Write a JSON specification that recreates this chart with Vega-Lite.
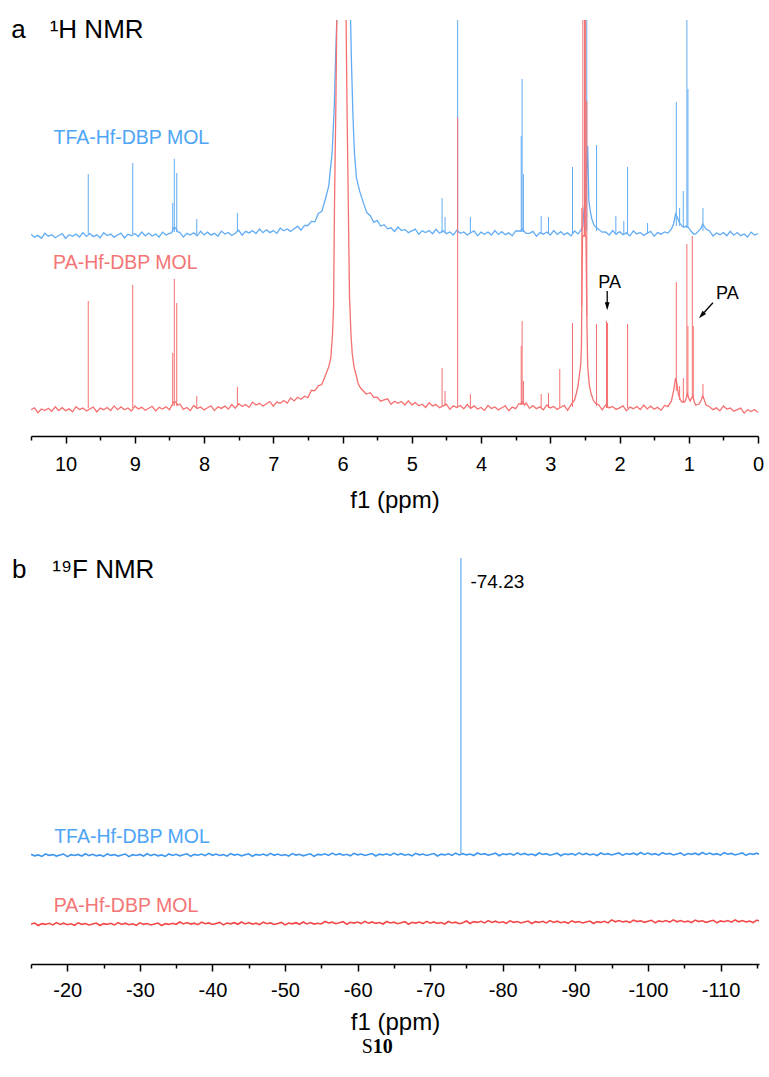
{
  "$schema": "https://vega.github.io/schema/vega-lite/v6.json",
  "background": "white",
  "padding": {"left": 11, "top": 16, "right": 0, "bottom": 0},
  "bounds": "flush",
  "spacing": 122,
  "config": {
    "view": {"stroke": null},
    "font": "Liberation Sans",
    "axis": {
      "grid": false,
      "domainColor": "black",
      "domainWidth": 1.7,
      "tickColor": "black",
      "tickWidth": 1.5,
      "labelColor": "black",
      "labelFont": "Liberation Sans",
      "labelFontSize": 20,
      "labelBaseline": "alphabetic",
      "labelOverlap": false,
      "labelFlush": false,
      "titleColor": "black",
      "titleFont": "Liberation Sans",
      "titleFontSize": 24,
      "titleFontWeight": "normal",
      "titleBaseline": "alphabetic"
    }
  },
  "datasets": {
    "h_tfa": [
      {"x":10.50,"y":201.8},{"x":10.45,"y":198.8},{"x":10.40,"y":200.6},{"x":10.35,"y":197.7},{"x":10.30,"y":202.7},{"x":10.25,"y":199.8},{"x":10.20,"y":201.3},{"x":10.15,"y":198.3},{"x":10.10,"y":200.5},{"x":10.05,"y":202.4},
      {"x":10.00,"y":197.5},{"x":9.95,"y":201.3},{"x":9.90,"y":199.7},{"x":9.85,"y":201.9},{"x":9.80,"y":198.9},{"x":9.75,"y":203.4},{"x":9.70,"y":199.6},{"x":9.65,"y":202.4},{"x":9.60,"y":199.4},{"x":9.55,"y":201.2},
      {"x":9.50,"y":198.3},{"x":9.45,"y":203.3},{"x":9.40,"y":200.4},{"x":9.35,"y":201.9},{"x":9.30,"y":198.9},{"x":9.25,"y":201.0},{"x":9.20,"y":202.9},{"x":9.15,"y":198.1},{"x":9.10,"y":201.8},{"x":9.05,"y":200.3},
      {"x":9.00,"y":202.5},{"x":8.95,"y":199.5},{"x":8.90,"y":204.0},{"x":8.85,"y":200.2},{"x":8.80,"y":203.0},{"x":8.75,"y":200.0},{"x":8.70,"y":201.9},{"x":8.65,"y":198.9},{"x":8.60,"y":203.9},{"x":8.55,"y":201.0},
      {"x":8.50,"y":202.6},{"x":8.47,"y":203},{"x":8.44,"y":208},{"x":8.41,"y":208},{"x":8.38,"y":204},{"x":8.35,"y":203.7},{"x":8.30,"y":198.9},{"x":8.25,"y":202.6},{"x":8.20,"y":201.0},{"x":8.15,"y":203.3},
      {"x":8.10,"y":200.2},{"x":8.05,"y":204.8},{"x":8.00,"y":201.1},{"x":7.95,"y":203.8},{"x":7.90,"y":200.9},{"x":7.85,"y":202.7},{"x":7.80,"y":199.8},{"x":7.75,"y":204.9},{"x":7.70,"y":201.9},{"x":7.65,"y":203.5},
      {"x":7.60,"y":200.5},{"x":7.55,"y":202.7},{"x":7.50,"y":205.7},{"x":7.45,"y":200.8},{"x":7.40,"y":204.6},{"x":7.35,"y":203.1},{"x":7.30,"y":205.4},{"x":7.25,"y":202.4},{"x":7.20,"y":207.0},{"x":7.15,"y":203.3},
      {"x":7.10,"y":206.2},{"x":7.05,"y":203.4},{"x":7.00,"y":205.4},{"x":6.95,"y":202.6},{"x":6.90,"y":207.9},{"x":6.85,"y":205.2},{"x":6.80,"y":207.1},{"x":6.75,"y":204.6},{"x":6.70,"y":207.2},{"x":6.65,"y":209.8},
      {"x":6.60,"y":205.8},{"x":6.55,"y":210.6},{"x":6.50,"y":210.5},{"x":6.45,"y":214.6},{"x":6.40,"y":214.2},{"x":6.35,"y":222.6},{"x":6.30,"y":224.6},{"x":6.25,"y":236.5},{"x":6.20,"y":249.9},{"x":6.15,"y":284.1},
      {"x":6.12,"y":330},{"x":6.10,"y":380},{"x":6.077,"y":430},{"x":6.05,"y":600},{"x":5.99,"y":900},{"x":5.93,"y":600},{"x":5.889,"y":430},{"x":5.87,"y":370},{"x":5.85,"y":320},{"x":5.83,"y":285},
      {"x":5.80,"y":258},{"x":5.75,"y":244.1},{"x":5.70,"y":233.4},{"x":5.65,"y":223.4},{"x":5.60,"y":220.3},{"x":5.55,"y":213.6},{"x":5.50,"y":215.6},{"x":5.45,"y":210.0},{"x":5.40,"y":211.3},{"x":5.35,"y":207.2},
      {"x":5.30,"y":208.2},{"x":5.25,"y":204.5},{"x":5.20,"y":209.0},{"x":5.15,"y":205.5},{"x":5.10,"y":206.6},{"x":5.05,"y":203.3},{"x":5.00,"y":205.1},{"x":4.95,"y":206.8},{"x":4.90,"y":201.7},{"x":4.85,"y":205.2},
      {"x":4.80,"y":203.5},{"x":4.75,"y":205.5},{"x":4.70,"y":202.3},{"x":4.65,"y":206.7},{"x":4.60,"y":202.8},{"x":4.55,"y":205.4},{"x":4.50,"y":202.3},{"x":4.45,"y":204.0},{"x":4.40,"y":200.9},{"x":4.35,"y":205.8},
      {"x":4.30,"y":202.7},{"x":4.25,"y":204.1},{"x":4.20,"y":201.1},{"x":4.15,"y":203.2},{"x":4.10,"y":205.1},{"x":4.05,"y":200.2},{"x":4.00,"y":203.9},{"x":3.95,"y":201.8},{"x":3.90,"y":204.0},{"x":3.85,"y":200.9},
      {"x":3.80,"y":205.4},{"x":3.75,"y":201.6},{"x":3.70,"y":204.3},{"x":3.65,"y":201.3},{"x":3.60,"y":203.1},{"x":3.55,"y":200.1},{"x":3.50,"y":205.1},{"x":3.45,"y":205},{"x":3.43,"y":205},{"x":3.40,"y":207},
      {"x":3.37,"y":204},{"x":3.35,"y":202.6},{"x":3.30,"y":202.7},{"x":3.25,"y":204.6},{"x":3.20,"y":199.7},{"x":3.15,"y":203.4},{"x":3.10,"y":201.8},{"x":3.05,"y":204.0},{"x":3.00,"y":200.9},{"x":2.95,"y":205.4},
      {"x":2.90,"y":201.6},{"x":2.85,"y":204.3},{"x":2.80,"y":201.3},{"x":2.75,"y":203.1},{"x":2.70,"y":200.1},{"x":2.65,"y":205.1},{"x":2.60,"y":202.1},{"x":2.55,"y":206.6},{"x":2.53,"y":210},{"x":2.515,"y":225},
      {"x":2.49,"y":240},{"x":2.46,"y":290},{"x":2.443,"y":235},{"x":2.42,"y":224},{"x":2.40,"y":217},{"x":2.37,"y":211},{"x":2.35,"y":209.5},{"x":2.30,"y":206.4},{"x":2.25,"y":203.8},{"x":2.20,"y":204.0},
      {"x":2.15,"y":200.9},{"x":2.10,"y":205.4},{"x":2.05,"y":201.6},{"x":2.00,"y":204.3},{"x":1.95,"y":201.3},{"x":1.90,"y":203.1},{"x":1.85,"y":200.1},{"x":1.80,"y":205.1},{"x":1.75,"y":202.1},{"x":1.70,"y":203.6},
      {"x":1.65,"y":200.6},{"x":1.60,"y":202.7},{"x":1.55,"y":204.6},{"x":1.50,"y":199.7},{"x":1.45,"y":203.4},{"x":1.40,"y":201.8},{"x":1.35,"y":204.0},{"x":1.30,"y":202.9},{"x":1.25,"y":207},{"x":1.22,"y":212},
      {"x":1.19,"y":222},{"x":1.16,"y":218},{"x":1.14,"y":214},{"x":1.10,"y":210},{"x":1.06,"y":209},{"x":1.04,"y":210},{"x":1.00,"y":208},{"x":0.97,"y":205},{"x":0.93,"y":202},{"x":0.90,"y":202.1},
      {"x":0.85,"y":205.6},{"x":0.82,"y":208},{"x":0.80,"y":212},{"x":0.78,"y":210},{"x":0.75,"y":207},{"x":0.70,"y":205.0},{"x":0.65,"y":199.9},{"x":0.60,"y":203.0},{"x":0.55,"y":201.3},{"x":0.50,"y":203.5},
      {"x":0.45,"y":200.3},{"x":0.40,"y":204.7},{"x":0.35,"y":200.8},{"x":0.30,"y":203.4},{"x":0.25,"y":200.3},{"x":0.20,"y":202.0},{"x":0.15,"y":198.9},{"x":0.10,"y":203.9},{"x":0.05,"y":200.9},{"x":0.00,"y":202.4}
    ],
    "h_pa": [
      {"x":10.50,"y":26.2},{"x":10.45,"y":28.1},{"x":10.40,"y":23.3},{"x":10.35,"y":27.0},{"x":10.30,"y":25.4},{"x":10.25,"y":27.7},{"x":10.20,"y":24.7},{"x":10.15,"y":29.2},{"x":10.10,"y":25.5},{"x":10.05,"y":28.3},
      {"x":10.00,"y":25.3},{"x":9.95,"y":27.1},{"x":9.90,"y":24.2},{"x":9.85,"y":29.3},{"x":9.80,"y":26.4},{"x":9.75,"y":27.9},{"x":9.70,"y":25.0},{"x":9.65,"y":27.1},{"x":9.60,"y":29.0},{"x":9.55,"y":24.1},
      {"x":9.50,"y":27.9},{"x":9.45,"y":26.3},{"x":9.40,"y":28.5},{"x":9.35,"y":25.5},{"x":9.30,"y":30.1},{"x":9.25,"y":26.3},{"x":9.20,"y":29.1},{"x":9.15,"y":26.2},{"x":9.10,"y":28.0},{"x":9.05,"y":25.0},
      {"x":9.00,"y":30.1},{"x":8.95,"y":27.1},{"x":8.90,"y":28.7},{"x":8.85,"y":25.7},{"x":8.80,"y":27.8},{"x":8.75,"y":29.7},{"x":8.70,"y":24.9},{"x":8.65,"y":28.6},{"x":8.60,"y":27.0},{"x":8.55,"y":29.2},
      {"x":8.50,"y":26.2},{"x":8.47,"y":30},{"x":8.44,"y":34},{"x":8.41,"y":34},{"x":8.38,"y":31},{"x":8.35,"y":32},{"x":8.30,"y":26.6},{"x":8.25,"y":28.5},{"x":8.20,"y":25.5},{"x":8.15,"y":30.6},
      {"x":8.10,"y":27.6},{"x":8.05,"y":29.1},{"x":8.00,"y":26.1},{"x":7.95,"y":28.2},{"x":7.90,"y":30.2},{"x":7.85,"y":25.4},{"x":7.80,"y":29.1},{"x":7.75,"y":27.6},{"x":7.70,"y":29.9},{"x":7.65,"y":26.9},
      {"x":7.60,"y":31.5},{"x":7.55,"y":27.8},{"x":7.50,"y":32.3},{"x":7.45,"y":29.5},{"x":7.40,"y":31.5},{"x":7.35,"y":28.6},{"x":7.30,"y":33.8},{"x":7.25,"y":31.0},{"x":7.20,"y":32.7},{"x":7.15,"y":30.0},
      {"x":7.10,"y":32.3},{"x":7.05,"y":34.5},{"x":7.00,"y":29.8},{"x":6.95,"y":33.9},{"x":6.90,"y":32.8},{"x":6.85,"y":35.5},{"x":6.80,"y":32.9},{"x":6.75,"y":38.1},{"x":6.70,"y":35.1},{"x":6.65,"y":38.7},
      {"x":6.60,"y":36.8},{"x":6.55,"y":39.8},{"x":6.50,"y":38.4},{"x":6.45,"y":45.7},{"x":6.40,"y":45.4},{"x":6.35,"y":50.1},{"x":6.30,"y":51.4},{"x":6.25,"y":60.2},{"x":6.20,"y":69},{"x":6.17,"y":78},
      {"x":6.145,"y":102},{"x":6.13,"y":130},{"x":6.116,"y":235},{"x":6.096,"y":335},{"x":6.082,"y":430},{"x":6.05,"y":650},{"x":6.016,"y":900},{"x":5.98,"y":650},{"x":5.951,"y":430},{"x":5.937,"y":335},
      {"x":5.918,"y":235},{"x":5.90,"y":140},{"x":5.879,"y":102},{"x":5.86,"y":82},{"x":5.831,"y":68},{"x":5.80,"y":60},{"x":5.774,"y":52},{"x":5.74,"y":48},{"x":5.70,"y":45},{"x":5.658,"y":42},
      {"x":5.60,"y":43.3},{"x":5.55,"y":38.7},{"x":5.50,"y":38.8},{"x":5.45,"y":34.8},{"x":5.40,"y":36.1},{"x":5.35,"y":37.2},{"x":5.30,"y":31.7},{"x":5.25,"y":34.8},{"x":5.20,"y":32.7},{"x":5.15,"y":34.5},
      {"x":5.10,"y":31.0},{"x":5.05,"y":35.2},{"x":5.00,"y":31.1},{"x":4.95,"y":33.4},{"x":4.90,"y":30.2},{"x":4.85,"y":31.8},{"x":4.80,"y":28.5},{"x":4.75,"y":33.3},{"x":4.70,"y":30.1},{"x":4.65,"y":31.4},
      {"x":4.60,"y":28.2},{"x":4.55,"y":30.1},{"x":4.50,"y":31.8},{"x":4.45,"y":26.7},{"x":4.40,"y":30.2},{"x":4.35,"y":28.4},{"x":4.30,"y":30.5},{"x":4.25,"y":27.2},{"x":4.20,"y":31.5},{"x":4.15,"y":27.6},
      {"x":4.10,"y":30.1},{"x":4.05,"y":27.0},{"x":4.00,"y":28.6},{"x":3.95,"y":25.6},{"x":3.90,"y":30.6},{"x":3.85,"y":27.6},{"x":3.80,"y":29.1},{"x":3.75,"y":26.1},{"x":3.70,"y":28.2},{"x":3.65,"y":30.1},
      {"x":3.60,"y":25.2},{"x":3.55,"y":28.9},{"x":3.50,"y":27.3},{"x":3.45,"y":32.5},{"x":3.43,"y":32},{"x":3.40,"y":34},{"x":3.37,"y":31},{"x":3.35,"y":33},{"x":3.30,"y":27.6},{"x":3.25,"y":30.3},
      {"x":3.20,"y":27.3},{"x":3.15,"y":29.1},{"x":3.10,"y":26.1},{"x":3.05,"y":31.1},{"x":3.00,"y":28.1},{"x":2.95,"y":29.6},{"x":2.90,"y":26.6},{"x":2.85,"y":28.7},{"x":2.80,"y":30.6},{"x":2.75,"y":25.7},
      {"x":2.70,"y":31.4},{"x":2.65,"y":35.8},{"x":2.626,"y":42},{"x":2.60,"y":50},{"x":2.578,"y":62},{"x":2.56,"y":72},{"x":2.55,"y":90},{"x":2.545,"y":130},{"x":2.535,"y":200},{"x":2.485,"y":200},
      {"x":2.47,"y":110},{"x":2.46,"y":70},{"x":2.435,"y":50},{"x":2.409,"y":42},{"x":2.38,"y":36},{"x":2.35,"y":33},{"x":2.30,"y":31.1},{"x":2.25,"y":26.1},{"x":2.20,"y":31.1},
      {"x":2.15,"y":28.1},{"x":2.10,"y":29.6},{"x":2.05,"y":26.6},{"x":2.00,"y":28.2},{"x":1.95,"y":30.1},{"x":1.90,"y":25.2},{"x":1.85,"y":28.9},{"x":1.80,"y":27.3},{"x":1.75,"y":29.5},{"x":1.70,"y":26.4},
      {"x":1.65,"y":30.9},{"x":1.60,"y":27.1},{"x":1.55,"y":29.8},{"x":1.50,"y":26.8},{"x":1.45,"y":28.6},{"x":1.40,"y":25.6},{"x":1.35,"y":30.6},{"x":1.30,"y":29.6},{"x":1.25,"y":35.1},{"x":1.22,"y":45},
      {"x":1.19,"y":58},{"x":1.17,"y":52},{"x":1.15,"y":42},{"x":1.12,"y":36},{"x":1.10,"y":34},{"x":1.06,"y":34},{"x":1.04,"y":37},{"x":1.02,"y":42},{"x":1.00,"y":38},{"x":0.98,"y":35},
      {"x":0.96,"y":38},{"x":0.94,"y":40},{"x":0.92,"y":34},{"x":0.90,"y":31},{"x":0.85,"y":32},{"x":0.82,"y":36},{"x":0.80,"y":40},{"x":0.78,"y":37},{"x":0.75,"y":31},{"x":0.70,"y":29.3},
      {"x":0.65,"y":26.3},{"x":0.60,"y":28.1},{"x":0.55,"y":25.1},{"x":0.50,"y":30.1},{"x":0.45,"y":26.9},{"x":0.40,"y":27.9},{"x":0.35,"y":24.7},{"x":0.30,"y":26.4},{"x":0.25,"y":27.9},{"x":0.20,"y":22.9},
      {"x":0.15,"y":26.3},{"x":0.10,"y":24.5},{"x":0.05,"y":26.5},{"x":0.00,"y":23.4}
    ],
    "h_tfa_peaks": [
      {"x":9.673,"b":202,"t":262},{"x":9.031,"b":202,"t":273},{"x":8.453,"b":204,"t":233},{"x":8.430,"b":204,"t":277},{"x":8.395,"b":204,"t":263},
      {"x":8.106,"b":202,"t":217},{"x":7.519,"b":204,"t":223},{"x":4.563,"b":203,"t":238},{"x":4.520,"b":203,"t":219},{"x":4.338,"b":203,"t":900},
      {"x":4.154,"b":203,"t":219},{"x":3.420,"b":204,"t":300},{"x":3.407,"b":204,"t":357},{"x":3.388,"b":204,"t":262},{"x":3.132,"b":202,"t":220},
      {"x":3.026,"b":202,"t":219},{"x":2.679,"b":202,"t":269},{"x":2.506,"b":205,"t":900},{"x":2.473,"b":205,"t":900},{"x":2.332,"b":205,"t":291},
      {"x":2.053,"b":202,"t":220},{"x":1.938,"b":202,"t":215},{"x":1.884,"b":202,"t":269},{"x":1.595,"b":202,"t":213},{"x":1.180,"b":210,"t":334},
      {"x":1.132,"b":210,"t":228},{"x":1.079,"b":208,"t":245},{"x":1.027,"b":208,"t":900},{"x":1.012,"b":208,"t":347},{"x":0.795,"b":205,"t":228}
    ],
    "h_pa_peaks": [
      {"x":9.673,"b":28,"t":135},{"x":9.031,"b":28,"t":151},{"x":8.453,"b":30,"t":83},{"x":8.430,"b":30,"t":157},{"x":8.395,"b":30,"t":133},
      {"x":8.106,"b":28,"t":40},{"x":7.519,"b":30,"t":49},{"x":4.563,"b":30,"t":68},{"x":4.520,"b":30,"t":45},{"x":4.338,"b":29,"t":318},
      {"x":4.154,"b":28,"t":42},{"x":3.420,"b":31,"t":90},{"x":3.407,"b":31,"t":115},{"x":3.388,"b":31,"t":55},{"x":3.132,"b":28,"t":42},
      {"x":3.026,"b":28,"t":43},{"x":2.863,"b":28,"t":67},{"x":2.679,"b":29,"t":113},{"x":2.545,"b":130,"t":228},{"x":2.530,"b":200,"t":900},
      {"x":2.505,"b":200,"t":900},{"x":2.490,"b":200,"t":900},{"x":2.472,"b":120,"t":335},{"x":2.332,"b":30,"t":112},{"x":2.188,"b":28,"t":115},
      {"x":2.173,"b":28,"t":113},{"x":1.884,"b":28,"t":112},{"x":1.180,"b":45,"t":154},{"x":1.132,"b":36,"t":50},{"x":1.079,"b":34,"t":58},
      {"x":1.027,"b":40,"t":192},{"x":1.012,"b":40,"t":110},{"x":0.949,"b":38,"t":200},{"x":0.935,"b":38,"t":110},{"x":0.795,"b":38,"t":52}
    ],
    "f_tfa": [
      {"x":-15,"y":109.7},{"x":-15.5,"y":108.2},{"x":-16,"y":109.1},{"x":-16.5,"y":107.6},{"x":-17,"y":110.1},{"x":-17.5,"y":108.6},{"x":-18,"y":109.4},{"x":-18.5,"y":107.9},{"x":-19,"y":108.9},{"x":-19.5,"y":109.9},
      {"x":-20,"y":107.4},{"x":-20.5,"y":109.3},{"x":-21,"y":108.5},{"x":-21.5,"y":109.6},{"x":-22,"y":108.0},{"x":-22.5,"y":110.3},{"x":-23,"y":108.4},{"x":-23.5,"y":109.7},{"x":-24,"y":108.2},{"x":-24.5,"y":109.1},
      {"x":-25,"y":107.6},{"x":-25.5,"y":110.1},{"x":-26,"y":108.6},{"x":-26.5,"y":109.4},{"x":-27,"y":107.9},{"x":-27.5,"y":108.9},{"x":-28,"y":109.9},{"x":-28.5,"y":107.4},{"x":-29,"y":109.3},{"x":-29.5,"y":108.5},
      {"x":-30,"y":109.6},{"x":-30.5,"y":108.0},{"x":-31,"y":110.3},{"x":-31.5,"y":108.4},{"x":-32,"y":109.7},{"x":-32.5,"y":108.2},{"x":-33,"y":109.1},{"x":-33.5,"y":107.6},{"x":-34,"y":110.1},{"x":-34.5,"y":108.6},
      {"x":-35,"y":109.7},{"x":-35.5,"y":108.2},{"x":-36,"y":109.2},{"x":-36.5,"y":110.2},{"x":-37,"y":107.7},{"x":-37.5,"y":109.6},{"x":-38,"y":108.8},{"x":-38.5,"y":109.9},{"x":-39,"y":108.3},{"x":-39.5,"y":110.6},
      {"x":-40,"y":108.7},{"x":-40.5,"y":110.0},{"x":-41,"y":108.5},{"x":-41.5,"y":109.4},{"x":-42,"y":107.9},{"x":-42.5,"y":110.4},{"x":-43,"y":108.9},{"x":-43.5,"y":109.7},{"x":-44,"y":108.2},{"x":-44.5,"y":109.2},
      {"x":-45,"y":110.2},{"x":-45.5,"y":107.7},{"x":-46,"y":109.6},{"x":-46.5,"y":108.8},{"x":-47,"y":109.9},{"x":-47.5,"y":108.3},{"x":-48,"y":110.6},{"x":-48.5,"y":108.7},{"x":-49,"y":110.0},{"x":-49.5,"y":108.5},
      {"x":-50,"y":109.4},{"x":-50.5,"y":107.9},{"x":-51,"y":110.4},{"x":-51.5,"y":108.9},{"x":-52,"y":109.7},{"x":-52.5,"y":108.2},{"x":-53,"y":109.2},{"x":-53.5,"y":110.2},{"x":-54,"y":107.7},{"x":-54.5,"y":109.6},
      {"x":-55,"y":109.1},{"x":-55.5,"y":110.2},{"x":-56,"y":108.6},{"x":-56.5,"y":110.9},{"x":-57,"y":109.0},{"x":-57.5,"y":110.3},{"x":-58,"y":108.8},{"x":-58.5,"y":109.7},{"x":-59,"y":108.2},{"x":-59.5,"y":110.7},
      {"x":-60,"y":109.2},{"x":-60.5,"y":110.0},{"x":-61,"y":108.5},{"x":-61.5,"y":109.5},{"x":-62,"y":110.5},{"x":-62.5,"y":108.0},{"x":-63,"y":109.9},{"x":-63.5,"y":109.1},{"x":-64,"y":110.2},{"x":-64.5,"y":108.6},
      {"x":-65,"y":110.9},{"x":-65.5,"y":109.0},{"x":-66,"y":110.3},{"x":-66.5,"y":108.8},{"x":-67,"y":109.7},{"x":-67.5,"y":108.2},{"x":-68,"y":110.7},{"x":-68.5,"y":109.2},{"x":-69,"y":110.0},{"x":-69.5,"y":108.5},
      {"x":-70,"y":109.5},{"x":-70.5,"y":110.5},{"x":-71,"y":108.0},{"x":-71.5,"y":109.9},{"x":-72,"y":109.1},{"x":-72.5,"y":110.2},{"x":-73,"y":108.6},{"x":-73.5,"y":110.9},{"x":-74,"y":109.0},{"x":-74.5,"y":110.3},
      {"x":-75,"y":109.1},{"x":-75.5,"y":110.0},{"x":-76,"y":108.5},{"x":-76.5,"y":111.0},{"x":-77,"y":109.5},{"x":-77.5,"y":110.3},{"x":-78,"y":108.8},{"x":-78.5,"y":109.8},{"x":-79,"y":110.8},{"x":-79.5,"y":108.3},
      {"x":-80,"y":110.2},{"x":-80.5,"y":109.4},{"x":-81,"y":110.5},{"x":-81.5,"y":108.9},{"x":-82,"y":111.2},{"x":-82.5,"y":109.3},{"x":-83,"y":110.6},{"x":-83.5,"y":109.1},{"x":-84,"y":110.0},{"x":-84.5,"y":108.5},
      {"x":-85,"y":111.0},{"x":-85.5,"y":109.5},{"x":-86,"y":110.3},{"x":-86.5,"y":108.8},{"x":-87,"y":109.8},{"x":-87.5,"y":110.8},{"x":-88,"y":108.3},{"x":-88.5,"y":110.2},{"x":-89,"y":109.4},{"x":-89.5,"y":110.5},
      {"x":-90,"y":108.9},{"x":-90.5,"y":111.2},{"x":-91,"y":109.3},{"x":-91.5,"y":110.6},{"x":-92,"y":109.1},{"x":-92.5,"y":110.0},{"x":-93,"y":108.5},{"x":-93.5,"y":111.0},{"x":-94,"y":109.5},{"x":-94.5,"y":110.3},
      {"x":-95,"y":109.1},{"x":-95.5,"y":110.1},{"x":-96,"y":111.1},{"x":-96.5,"y":108.6},{"x":-97,"y":110.5},{"x":-97.5,"y":109.7},{"x":-98,"y":110.8},{"x":-98.5,"y":109.2},{"x":-99,"y":111.5},{"x":-99.5,"y":109.6},
      {"x":-100,"y":110.9},{"x":-100.5,"y":109.4},{"x":-101,"y":110.3},{"x":-101.5,"y":108.8},{"x":-102,"y":111.3},{"x":-102.5,"y":109.8},{"x":-103,"y":110.6},{"x":-103.5,"y":109.1},{"x":-104,"y":110.1},{"x":-104.5,"y":111.1},
      {"x":-105,"y":108.6},{"x":-105.5,"y":110.5},{"x":-106,"y":109.7},{"x":-106.5,"y":110.8},{"x":-107,"y":109.2},{"x":-107.5,"y":111.5},{"x":-108,"y":109.6},{"x":-108.5,"y":110.9},{"x":-109,"y":109.4},{"x":-109.5,"y":110.3},
      {"x":-110,"y":108.8},{"x":-110.5,"y":111.3},{"x":-111,"y":109.8},{"x":-111.5,"y":110.6},{"x":-112,"y":109.1},{"x":-112.5,"y":110.1},{"x":-113,"y":111.1},{"x":-113.5,"y":108.6},{"x":-114,"y":110.5},{"x":-114.5,"y":109.7},
      {"x":-115,"y":110.8},{"x":-115.5,"y":109.2}
    ],
    "f_pa": [
      {"x":-15,"y":40.0},{"x":-15.5,"y":41.0},{"x":-16,"y":38.5},{"x":-16.5,"y":40.4},{"x":-17,"y":39.6},{"x":-17.5,"y":40.7},{"x":-18,"y":39.1},{"x":-18.5,"y":41.4},{"x":-19,"y":39.5},{"x":-19.5,"y":40.8},
      {"x":-20,"y":39.3},{"x":-20.5,"y":40.2},{"x":-21,"y":38.7},{"x":-21.5,"y":41.2},{"x":-22,"y":39.7},{"x":-22.5,"y":40.5},{"x":-23,"y":39.0},{"x":-23.5,"y":40.0},{"x":-24,"y":41.0},{"x":-24.5,"y":38.5},
      {"x":-25,"y":40.4},{"x":-25.5,"y":39.6},{"x":-26,"y":40.7},{"x":-26.5,"y":39.1},{"x":-27,"y":41.4},{"x":-27.5,"y":39.5},{"x":-28,"y":40.8},{"x":-28.5,"y":39.3},{"x":-29,"y":40.2},{"x":-29.5,"y":38.7},
      {"x":-30,"y":41.2},{"x":-30.5,"y":39.7},{"x":-31,"y":40.5},{"x":-31.5,"y":39.0},{"x":-32,"y":40.0},{"x":-32.5,"y":41.0},{"x":-33,"y":38.5},{"x":-33.5,"y":40.4},{"x":-34,"y":39.6},{"x":-34.5,"y":40.7},
      {"x":-35,"y":39.7},{"x":-35.5,"y":42.0},{"x":-36,"y":40.1},{"x":-36.5,"y":41.4},{"x":-37,"y":39.9},{"x":-37.5,"y":40.8},{"x":-38,"y":39.3},{"x":-38.5,"y":41.8},{"x":-39,"y":40.3},{"x":-39.5,"y":41.1},
      {"x":-40,"y":39.6},{"x":-40.5,"y":40.6},{"x":-41,"y":41.6},{"x":-41.5,"y":39.1},{"x":-42,"y":41.0},{"x":-42.5,"y":40.2},{"x":-43,"y":41.3},{"x":-43.5,"y":39.7},{"x":-44,"y":42.0},{"x":-44.5,"y":40.1},
      {"x":-45,"y":41.4},{"x":-45.5,"y":39.9},{"x":-46,"y":40.8},{"x":-46.5,"y":39.3},{"x":-47,"y":41.8},{"x":-47.5,"y":40.3},{"x":-48,"y":41.1},{"x":-48.5,"y":39.6},{"x":-49,"y":40.6},{"x":-49.5,"y":41.6},
      {"x":-50,"y":39.1},{"x":-50.5,"y":41.0},{"x":-51,"y":40.2},{"x":-51.5,"y":41.3},{"x":-52,"y":39.7},{"x":-52.5,"y":42.0},{"x":-53,"y":40.1},{"x":-53.5,"y":41.4},{"x":-54,"y":39.9},{"x":-54.5,"y":40.8},
      {"x":-55,"y":40.0},{"x":-55.5,"y":42.5},{"x":-56,"y":41.0},{"x":-56.5,"y":41.8},{"x":-57,"y":40.3},{"x":-57.5,"y":41.3},{"x":-58,"y":42.3},{"x":-58.5,"y":39.8},{"x":-59,"y":41.7},{"x":-59.5,"y":40.9},
      {"x":-60,"y":42.0},{"x":-60.5,"y":40.4},{"x":-61,"y":42.7},{"x":-61.5,"y":40.8},{"x":-62,"y":42.1},{"x":-62.5,"y":40.6},{"x":-63,"y":41.5},{"x":-63.5,"y":40.0},{"x":-64,"y":42.5},{"x":-64.5,"y":41.0},
      {"x":-65,"y":41.8},{"x":-65.5,"y":40.3},{"x":-66,"y":41.3},{"x":-66.5,"y":42.3},{"x":-67,"y":39.8},{"x":-67.5,"y":41.7},{"x":-68,"y":40.9},{"x":-68.5,"y":42.0},{"x":-69,"y":40.4},{"x":-69.5,"y":42.7},
      {"x":-70,"y":40.8},{"x":-70.5,"y":42.1},{"x":-71,"y":40.6},{"x":-71.5,"y":41.5},{"x":-72,"y":40.0},{"x":-72.5,"y":42.5},{"x":-73,"y":41.0},{"x":-73.5,"y":41.8},{"x":-74,"y":40.3},{"x":-74.5,"y":41.3},
      {"x":-75,"y":43.0},{"x":-75.5,"y":40.5},{"x":-76,"y":42.4},{"x":-76.5,"y":41.6},{"x":-77,"y":42.7},{"x":-77.5,"y":41.1},{"x":-78,"y":43.4},{"x":-78.5,"y":41.5},{"x":-79,"y":42.8},{"x":-79.5,"y":41.3},
      {"x":-80,"y":42.2},{"x":-80.5,"y":40.7},{"x":-81,"y":43.2},{"x":-81.5,"y":41.7},{"x":-82,"y":42.5},{"x":-82.5,"y":41.0},{"x":-83,"y":42.0},{"x":-83.5,"y":43.0},{"x":-84,"y":40.5},{"x":-84.5,"y":42.4},
      {"x":-85,"y":41.6},{"x":-85.5,"y":42.7},{"x":-86,"y":41.1},{"x":-86.5,"y":43.4},{"x":-87,"y":41.5},{"x":-87.5,"y":42.8},{"x":-88,"y":41.3},{"x":-88.5,"y":42.2},{"x":-89,"y":40.7},{"x":-89.5,"y":43.2},
      {"x":-90,"y":41.7},{"x":-90.5,"y":42.5},{"x":-91,"y":41.0},{"x":-91.5,"y":42.0},{"x":-92,"y":43.0},{"x":-92.5,"y":40.5},{"x":-93,"y":42.4},{"x":-93.5,"y":41.6},{"x":-94,"y":42.7},{"x":-94.5,"y":41.1},
      {"x":-95,"y":44.1},{"x":-95.5,"y":42.2},{"x":-96,"y":43.5},{"x":-96.5,"y":42.0},{"x":-97,"y":42.9},{"x":-97.5,"y":41.4},{"x":-98,"y":43.9},{"x":-98.5,"y":42.4},{"x":-99,"y":43.2},{"x":-99.5,"y":41.7},
      {"x":-100,"y":42.7},{"x":-100.5,"y":43.7},{"x":-101,"y":41.2},{"x":-101.5,"y":43.1},{"x":-102,"y":42.3},{"x":-102.5,"y":43.4},{"x":-103,"y":41.8},{"x":-103.5,"y":44.1},{"x":-104,"y":42.2},{"x":-104.5,"y":43.5},
      {"x":-105,"y":42.0},{"x":-105.5,"y":42.9},{"x":-106,"y":41.4},{"x":-106.5,"y":43.9},{"x":-107,"y":42.4},{"x":-107.5,"y":43.2},{"x":-108,"y":41.7},{"x":-108.5,"y":42.7},{"x":-109,"y":43.7},{"x":-109.5,"y":41.2},
      {"x":-110,"y":43.1},{"x":-110.5,"y":42.3},{"x":-111,"y":43.4},{"x":-111.5,"y":41.8},{"x":-112,"y":44.1},{"x":-112.5,"y":42.2},{"x":-113,"y":43.5},{"x":-113.5,"y":42.0},{"x":-114,"y":42.9},{"x":-114.5,"y":41.4},
      {"x":-115,"y":43.9},{"x":-115.5,"y":42.4}
    ],
    "f_tfa_peaks": [
      {"x":-74.23,"b":109.5,"t":900}
    ]
  },
  "vconcat": [
    {
      "width": 727,
      "height": 416,
      "resolve": {"axis": {"x": "independent"}},
      "layer": [
        {
          "data": {"name": "h_tfa"},
          "mark": {"type": "line", "clip": true, "color": "#62acf3", "strokeWidth": 1.3},
          "encoding": {
            "x": {
              "field": "x", "type": "quantitative",
              "scale": {"domain": [0, 10.5], "reverse": true, "nice": false, "zero": false},
              "axis": {
                "orient": "bottom",
                "title": "f1 (ppm)",
                "titleY": 71,
                "values": [10, 9, 8, 7, 6, 5, 4, 3, 2, 1, 0],
                "labelExpr": "'' + datum.value",
                "labelPadding": 27,
                "tickSize": 7
              }
            },
            "y": {
              "field": "y", "type": "quantitative",
              "scale": {"domain": [0, 416], "nice": false, "zero": false},
              "axis": null
            }
          }
        },
        {
          "data": {"name": "h_tfa_peaks"},
          "mark": {"type": "rule", "clip": true, "color": "#62acf3", "strokeWidth": 1},
          "encoding": {
            "x": {
              "field": "x", "type": "quantitative",
              "axis": {
                "orient": "bottom",
                "title": null,
                "values": [10.5, 9.5, 8.5, 7.5, 6.5, 5.5, 4.5, 3.5, 2.5, 1.5, 0.5],
                "labels": false,
                "domain": false,
                "tickSize": 4
              }
            },
            "y": {"field": "b", "type": "quantitative", "axis": null},
            "y2": {"field": "t"}
          }
        },
        {
          "data": {"name": "h_pa"},
          "mark": {"type": "line", "clip": true, "color": "#f57070", "strokeWidth": 1.3},
          "encoding": {
            "x": {"field": "x", "type": "quantitative", "axis": null},
            "y": {"field": "y", "type": "quantitative", "axis": null}
          }
        },
        {
          "data": {"name": "h_pa_peaks"},
          "mark": {"type": "rule", "clip": true, "color": "#f57070", "strokeWidth": 1},
          "encoding": {
            "x": {"field": "x", "type": "quantitative", "axis": null},
            "y": {"field": "b", "type": "quantitative", "axis": null},
            "y2": {"field": "t"}
          }
        },
        {
          "data": {"values": [{}]},
          "mark": {"type": "text", "text": "a", "fontSize": 26, "align": "left", "baseline": "alphabetic", "color": "black"},
          "encoding": {"x": {"datum": 10.786, "type": "quantitative", "axis": null}, "y": {"datum": 398.3, "type": "quantitative", "axis": null}}
        },
        {
          "data": {"values": [{}]},
          "mark": {"type": "text", "text": "¹H NMR", "fontSize": 26, "align": "left", "baseline": "alphabetic", "color": "black"},
          "encoding": {"x": {"datum": 10.23, "type": "quantitative", "axis": null}, "y": {"datum": 398.3, "type": "quantitative", "axis": null}}
        },
        {
          "data": {"values": [{}]},
          "mark": {"type": "text", "text": "TFA-Hf-DBP MOL", "fontSize": 19.5, "align": "left", "baseline": "alphabetic", "color": "#4ea5f5"},
          "encoding": {"x": {"datum": 10.175, "type": "quantitative", "axis": null}, "y": {"datum": 291.7, "type": "quantitative", "axis": null}}
        },
        {
          "data": {"values": [{}]},
          "mark": {"type": "text", "text": "PA-Hf-DBP MOL", "fontSize": 19.5, "align": "left", "baseline": "alphabetic", "color": "#f47575"},
          "encoding": {"x": {"datum": 10.181, "type": "quantitative", "axis": null}, "y": {"datum": 166.7, "type": "quantitative", "axis": null}}
        },
        {
          "data": {"values": [{}]},
          "mark": {"type": "text", "text": "PA", "fontSize": 18, "align": "center", "baseline": "alphabetic", "color": "black"},
          "encoding": {"x": {"datum": 2.144, "type": "quantitative", "axis": null}, "y": {"datum": 148, "type": "quantitative", "axis": null}}
        },
        {
          "data": {"values": [{}]},
          "mark": {"type": "text", "text": "PA", "fontSize": 18, "align": "center", "baseline": "alphabetic", "color": "black"},
          "encoding": {"x": {"datum": 0.442, "type": "quantitative", "axis": null}, "y": {"datum": 136.7, "type": "quantitative", "axis": null}}
        },
        {
          "data": {"values": [{}]},
          "mark": {"type": "rule", "color": "black", "strokeWidth": 1.3},
          "encoding": {"x": {"datum": 2.178, "type": "quantitative", "axis": null}, "y": {"datum": 145, "type": "quantitative", "axis": null}, "y2": {"datum": 130}}
        },
        {
          "data": {"values": [{}]},
          "mark": {"type": "point", "shape": "M0,-1L0.6,1L-0.6,1Z", "filled": true, "size": 64, "angle": 180, "color": "black", "opacity": 1},
          "encoding": {"x": {"datum": 2.178, "type": "quantitative", "axis": null}, "y": {"datum": 129.7, "type": "quantitative", "axis": null}}
        },
        {
          "data": {"values": [{}]},
          "mark": {"type": "rule", "color": "black", "strokeWidth": 1.3},
          "encoding": {"x": {"datum": 0.651, "type": "quantitative", "axis": null}, "x2": {"datum": 0.814}, "y": {"datum": 133.3, "type": "quantitative", "axis": null}, "y2": {"datum": 120.7}}
        },
        {
          "data": {"values": [{}]},
          "mark": {"type": "point", "shape": "M0,-1L0.6,1L-0.6,1Z", "filled": true, "size": 64, "angle": 222, "color": "black", "opacity": 1},
          "encoding": {"x": {"datum": 0.814, "type": "quantitative", "axis": null}, "y": {"datum": 120.7, "type": "quantitative", "axis": null}}
        }
      ]
    },
    {
      "width": 728,
      "height": 406,
      "resolve": {"axis": {"x": "independent"}},
      "layer": [
        {
          "data": {"name": "f_tfa"},
          "mark": {"type": "line", "clip": true, "color": "#3f96ee", "strokeWidth": 1.6},
          "encoding": {
            "x": {
              "field": "x", "type": "quantitative",
              "scale": {"domain": [-115.3, -15], "reverse": true, "nice": false, "zero": false},
              "axis": {
                "orient": "bottom",
                "title": "f1 (ppm)",
                "titleY": 65,
                "values": [-20, -30, -40, -50, -60, -70, -80, -90, -100, -110],
                "labelExpr": "'' + datum.value",
                "labelPadding": 25,
                "tickSize": 7
              }
            },
            "y": {
              "field": "y", "type": "quantitative",
              "scale": {"domain": [0, 406], "nice": false, "zero": false},
              "axis": null
            }
          }
        },
        {
          "data": {"name": "f_tfa_peaks"},
          "mark": {"type": "rule", "clip": true, "color": "#62acf3", "strokeWidth": 1.2},
          "encoding": {
            "x": {
              "field": "x", "type": "quantitative",
              "axis": {
                "orient": "bottom",
                "title": null,
                "values": [-15, -25, -35, -45, -55, -65, -75, -85, -95, -105, -115],
                "labels": false,
                "domain": false,
                "tickSize": 4
              }
            },
            "y": {"field": "b", "type": "quantitative", "axis": null},
            "y2": {"field": "t"}
          }
        },
        {
          "data": {"name": "f_pa"},
          "mark": {"type": "line", "clip": true, "color": "#f24848", "strokeWidth": 1.6},
          "encoding": {
            "x": {"field": "x", "type": "quantitative", "axis": null},
            "y": {"field": "y", "type": "quantitative", "axis": null}
          }
        },
        {
          "data": {"values": [{}]},
          "mark": {"type": "text", "text": "b", "fontSize": 26, "align": "left", "baseline": "alphabetic", "color": "black"},
          "encoding": {"x": {"datum": -12.39, "type": "quantitative", "axis": null}, "y": {"datum": 386.3, "type": "quantitative", "axis": null}}
        },
        {
          "data": {"values": [{}]},
          "mark": {"type": "text", "text": "¹⁹F NMR", "fontSize": 26, "align": "left", "baseline": "alphabetic", "color": "black"},
          "encoding": {"x": {"datum": -17.93, "type": "quantitative", "axis": null}, "y": {"datum": 386.3, "type": "quantitative", "axis": null}}
        },
        {
          "data": {"values": [{}]},
          "mark": {"type": "text", "text": "-74.23", "fontSize": 19, "align": "left", "baseline": "alphabetic", "color": "black"},
          "encoding": {"x": {"datum": -75.54, "type": "quantitative", "axis": null}, "y": {"datum": 376.3, "type": "quantitative", "axis": null}}
        },
        {
          "data": {"values": [{}]},
          "mark": {"type": "text", "text": "TFA-Hf-DBP MOL", "fontSize": 19.5, "align": "left", "baseline": "alphabetic", "color": "#4ea5f5"},
          "encoding": {"x": {"datum": -18.19, "type": "quantitative", "axis": null}, "y": {"datum": 121.3, "type": "quantitative", "axis": null}}
        },
        {
          "data": {"values": [{}]},
          "mark": {"type": "text", "text": "PA-Hf-DBP MOL", "fontSize": 19.5, "align": "left", "baseline": "alphabetic", "color": "#f47575"},
          "encoding": {"x": {"datum": -18.14, "type": "quantitative", "axis": null}, "y": {"datum": 52, "type": "quantitative", "axis": null}}
        },
        {
          "data": {"values": [{}]},
          "mark": {"type": "text", "text": "S", "font": "Liberation Serif", "fontSize": 20, "align": "right", "baseline": "alphabetic", "color": "black"},
          "encoding": {"x": {"datum": -62.1, "type": "quantitative", "axis": null}, "y": {"datum": -89, "type": "quantitative", "axis": null}}
        },
        {
          "data": {"values": [{}]},
          "mark": {"type": "text", "text": "10", "font": "Liberation Serif", "fontWeight": "bold", "fontSize": 20, "align": "left", "baseline": "alphabetic", "color": "black"},
          "encoding": {"x": {"datum": -62.1, "type": "quantitative", "axis": null}, "y": {"datum": -89, "type": "quantitative", "axis": null}}
        }
      ]
    }
  ]
}
